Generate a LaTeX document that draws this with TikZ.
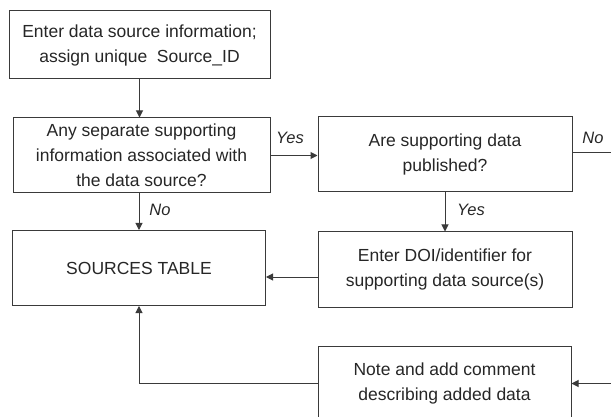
\documentclass[tikz,border=0pt]{standalone}
\usepackage{fontspec}
\setmainfont{Liberation Sans}
\usetikzlibrary{arrows.meta}
\definecolor{ink}{HTML}{262626}
\definecolor{edge}{HTML}{3A3A3A}
\begin{document}
\begin{tikzpicture}[x=1pt,y=-1pt,
  box/.style={draw=edge,line width=1pt,inner sep=0pt,align=center,text=ink,font=\fontsize{17.5}{25}\selectfont},
  link/.style={draw=edge,line width=1pt,-{Triangle[length=7pt,width=7pt]}},
  plain/.style={draw=edge,line width=1pt},
  lab/.style={text=ink,font=\fontsize{16.5}{20}\selectfont\itshape,inner sep=0pt}]
\useasboundingbox (0,0) rectangle (611,417);
\clip (0,0) rectangle (611,417);
\node[box,minimum width=261pt,minimum height=68pt] (src) at (139.5,45) {Enter data source information;\\assign unique\ \ Source\_ID};
\node[box,minimum width=257pt,minimum height=75pt] (sep) at (141.5,155.5) {Any separate supporting\\information associated with\\the data source?};
\node[box,minimum width=253pt,minimum height=75pt] (table) at (139,268) {SOURCES TABLE};
\node[box,minimum width=254pt,minimum height=75pt] (pub) at (445,154.5) {Are supporting data\\published?};
\node[box,minimum width=254pt,minimum height=75pt] (doi) at (445,269.5) {Enter DOI/identifier for\\supporting data source(s)};
\node[box,minimum width=253pt,minimum height=75pt] (note) at (444.5,383.5) {Note and add comment\\describing added data};
\coordinate (rout) at (611,153);
\coordinate (rin) at (611,383.5);
\draw[link] (src.south) -- (sep.north -| src.south);
\draw[link] (sep.east) -- (pub.west |- sep.east);
\draw[link] (sep.south -| table.north) -- (table.north);
\draw[link] (pub.south) -- (doi.north);
\draw[plain] (pub.east |- rout) -- (rout);
\draw[link] ([yshift=-7.5pt]doi.west) -- ([yshift=-7.5pt]doi.west -| table.east);
\draw[link] (note.west) -- (note.west -| table.south) -- (table.south);
\draw[link] (rin) -- (note.east);
\node[lab] (yes1) at (290,138) {Yes};
\node[lab] (no1) at (160,210) {No};
\node[lab] (yes2) at (471,210) {Yes};
\node[lab] (no2) at (593,138) {No};
\end{tikzpicture}
\end{document}
